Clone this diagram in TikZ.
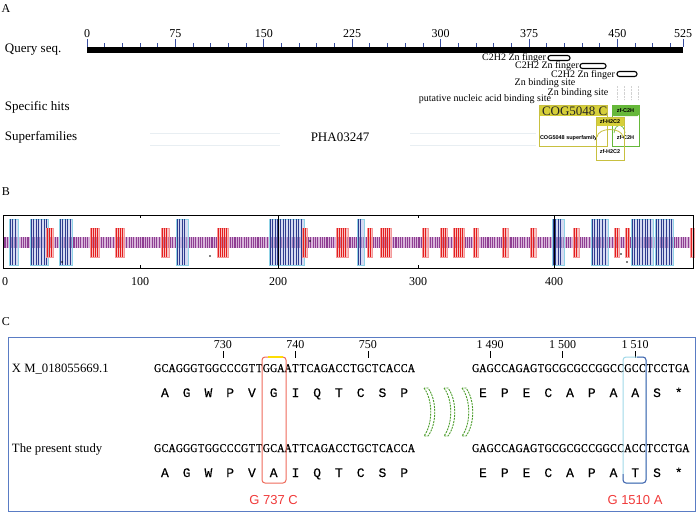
\documentclass[tikz,border=0pt]{standalone}
\usepackage{fontspec}
\setmainfont{Liberation Serif}
\newfontfamily\sansf{Liberation Sans}
\newfontfamily\monof[FakeBold=0.15]{Liberation Mono}
\newfontfamily\seqf[FakeStretch=0.82,FakeBold=0.7]{Liberation Serif}
\definecolor{tickc}{HTML}{3A4FA0}
\definecolor{cogy}{HTML}{D6CF3A}
\definecolor{cogb}{HTML}{C8C040}
\definecolor{zfg}{HTML}{66B83A}
\definecolor{purD}{HTML}{8E3E92}
\definecolor{purL}{HTML}{D8B4DA}
\definecolor{bluD}{HTML}{2E3C8E}
\definecolor{bluM}{HTML}{B4BCE6}
\definecolor{bluL}{HTML}{8FD3E6}
\definecolor{redD}{HTML}{E41E1E}
\definecolor{redL}{HTML}{F49A9A}
\definecolor{boxC}{HTML}{5A7CC4}
\definecolor{redbox}{HTML}{EE6A5A}
\definecolor{mutred}{HTML}{F03A3A}
\definecolor{grnC}{HTML}{4E9E2E}
\definecolor{cyanbox}{HTML}{A0D8E8}
\definecolor{dbluebox}{HTML}{4A66B0}
\definecolor{faint}{HTML}{E8EEF2}
\tikzset{
 lab/.style={font=\fontsize{13}{15}\selectfont, anchor=west},
 rl/.style={font=\fontsize{12}{14}\selectfont},
 smalltxt/.style={font=\fontsize{10}{12}\selectfont},
 tinyb/.style={font=\sansf\bfseries\fontsize{5.5}{6}\selectfont},
 nt/.style={font=\seqf\fontsize{12}{14}\selectfont, anchor=base},
 aa/.style={font=\monof\fontsize{13}{15}\selectfont, anchor=base},
 mut/.style={font=\sansf\fontsize{13}{15}\selectfont, text=mutred},
 hexm/.style={draw=black, line width=1.1, fill=white, rounded corners=2.4pt},
 tk/.style={draw=tickc, line width=0.8},
 crescent/.style={draw=grnC, fill=white, line width=0.9, dash pattern=on 2pt off 1pt},
}
\newcommand\seqrow[4]{\foreach \c [count=\i] in {#4} \node[nt] (#1-\i) at ({#2+7.25*\i},#3) {\c};}
\begin{document}
\begin{tikzpicture}[x=1pt,y=-1pt, every node/.style={inner sep=0pt, outer sep=0pt}]
\useasboundingbox (0,0) rectangle (700,514);
% ---------------- Panel A
\node[rl] (pA) at (6,9) {A};
\fill (87,47) rectangle (683,53);
\foreach \j in {0,...,33}{
  \pgfmathtruncatemacro\m{mod(\j,5)}
  \pgfmathsetmacro\xx{87+\j*17.68}
  \ifnum\m=0 \draw[tk] (\xx,39) -- (\xx,47); \else \draw[tk] (\xx,43) -- (\xx,47); \fi
}
\draw[tk] (683,39) -- (683,47);
\foreach \v [count=\k from 0] in {0,75,150,225,300,375,450}
  \node[rl] (r\k) at ({87+\k*88.4},34) {\v};
\node[rl] (r7) at (683,34) {525};
\node[lab] (qs) at (5,50) {Query seq.};
\node[lab] (sh) at (5,107) {Specific hits};
\node[lab] (sf) at (5,137) {Superfamilies};
% features
\node[smalltxt, anchor=east] (zf1) at (546,58) {C2H2 Zn finger};
\draw[hexm] (548,55.5) rectangle (570,60.5);
\node[smalltxt, anchor=east] (zf2) at (579,66) {C2H2 Zn finger};
\draw[hexm] (580,63.5) rectangle (606,68.5);
\node[smalltxt, anchor=east] (zf3) at (615,75) {C2H2 Zn finger};
\draw[hexm] (617,71.5) rectangle (637,76.5);
\node[smalltxt] (zb1) at (545,83) {Zn binding site};
\node[smalltxt] (zb2) at (578,93) {Zn binding site};
\node[smalltxt] (pn) at (485,99) {putative nucleic acid binding site};
\foreach \x in {617,624,631,638}
  \draw[gray!35, densely dotted] (\x,86) -- (\x,100);
% superfamily faint bands
\draw[faint, line width=0.8] (150,133) -- (280,133) (150,145) -- (280,145);
\draw[faint, line width=0.8] (410,133) -- (536,133) (410,145) -- (536,145);
\node[lab, anchor=center] (pha) at (340,137) {PHA03247};
% COG5048
\begin{scope}
\clip (539,105) rectangle (607,116);
\fill[cogy] (539,105) rectangle (607,116);
\node[anchor=west, font=\fontsize{13}{14}\selectfont, text=black!85] (cog) at (542,110.8) {COG5048 C};
\end{scope}
\draw[cogb, line width=0.9] (539,105) rectangle (607,146);
\begin{scope}
\clip (539,128) rectangle (606,146);
\node[tinyb, anchor=west] (cogs) at (540,138) {COG5048 superfamily};
\end{scope}
% zf-C2H
\fill[zfg, rounded corners=1.5pt] (612,105) rectangle (639,116);
\draw[zfg, line width=0.9] (612,105) rectangle (639,146);
\node[tinyb] (zc1) at (625.5,110.5) {zf-C2H};
\node[tinyb] (zc2) at (625.5,138) {zf-C2H};
\draw[zfg, line width=0.7] (614,133) .. controls (615,123) and (624,123) .. (625,133);
% zf-H2C2
\fill[cogy] (596,117) rectangle (624,126);
\draw[cogb, line width=0.9] (596,117) rectangle (624,160);
\node[tinyb] (zh1) at (610,121.5) {zf-H2C2};
\node[tinyb] (zh2) at (610,152) {zf-H2C2};
\draw[cogb, line width=0.8] (597,137) .. controls (598,127) and (622,127) .. (623,137);
% ---------------- Panel B
\node[rl] (pB) at (6,192) {B};
\fill[purL] (4,237) rectangle (690,248);
\foreach \k in {0,...,297}
  \draw[purD, line width=1.1] ({5+\k*2.3},237) -- ({5+\k*2.3},248);
\foreach \a/\b in {10/17, 31/47, 60/71, 177/187, 270/303, 358/363, 553/563, 592/607, 632/652, 656/672}{
  \fill[bluM, opacity=0.55] (\a-1,219) rectangle (\b+1,265);
  \draw[bluL, line width=0.8] (\a-1,219) rectangle (\b+1,265);
  \pgfmathsetmacro\aa{\a+2.6}
  \foreach \x in {\a,\aa,...,\b} \draw[bluD, line width=1] (\x,219) -- (\x,265);
}
\foreach \a/\b in {47/52, 91/98, 116/123, 162/168, 218/227, 303/306, 337/347, 368/371, 381/390, 423/427, 441/446, 454/463, 474/477, 503/507, 531/535, 574/578, 615/618, 626/628, 691/693}{
  \fill[redL, opacity=0.6] (\a-1,228) rectangle (\b+1,257);
  \draw[redL, line width=0.8] (\a-1,228) rectangle (\b+1,257);
  \pgfmathsetmacro\aa{\a+2.2}
  \foreach \x in {\a,\aa,...,\b} \draw[redD, line width=1] (\x,228) -- (\x,257);
}
\foreach \p in {(62,262),(210,256),(310,241),(621,254),(627,262)} \fill \p circle (0.9);
\draw[line width=0.8] (3,215) rectangle (693,268);
\draw[line width=0.6] (278,215) -- (278,268) (554,215) -- (554,268);
\foreach \x in {140,418} \draw[line width=0.8] (\x,215) -- (\x,218) (\x,268) -- (\x,265);
\node[rl] (b0) at (5,282) {0};
\node[rl] (b1) at (140,282) {100};
\node[rl] (b2) at (278,282) {200};
\node[rl] (b3) at (418,282) {300};
\node[rl] (b4) at (554,282) {400};
% ---------------- Panel C
\node[rl] (pC) at (6,322) {C};
\draw[boxC, line width=1] (8,337) rectangle (695,511);
\node[font=\fontsize{12.7}{15}\selectfont, anchor=base west] (xm) at (12,372) {X M\_018055669.1};
\node[font=\fontsize{12.7}{15}\selectfont, anchor=base west] (ps) at (12,452) {The present study};
% position marks
\foreach \x in {222.9, 295.4, 367.9, 490.1, 562.6, 635.1}{
  \draw[line width=0.8] (\x,351) -- (\x,358);
}
\node[rl] (n730) at (222.9,345) {730};
\node[rl] (n740) at (295.4,345) {740};
\node[rl] (n750) at (367.9,345) {750};
\node[rl] (n1490) at (490.1,345) {1 490};
\node[rl] (n1500) at (562.6,345) {1 500};
\node[rl] (n1510) at (635.1,345) {1 510};
% sequences
\seqrow{sa}{150.375}{372}{G,C,A,G,G,G,T,G,G,C,C,C,G,T,T,G,G,A,A,T,T,C,A,G,A,C,C,T,G,C,T,C,A,C,C,A}
\seqrow{sb}{468.375}{372}{G,A,G,C,C,A,G,A,G,T,G,C,G,C,G,C,C,G,G,C,C,G,C,C,T,C,C,T,G,A}
\seqrow{ta}{150.375}{452}{G,C,A,G,G,G,T,G,G,C,C,C,G,T,T,G,C,A,A,T,T,C,A,G,A,C,C,T,G,C,T,C,A,C,C,A}
\seqrow{tb}{468.375}{452}{G,A,G,C,C,A,G,A,G,T,G,C,G,C,G,C,C,G,G,C,C,A,C,C,T,C,C,T,G,A}
\foreach \c [count=\i from 0] in {A,G,W,P,V,G,I,Q,T,C,S,P} \node[aa] (pa-\i) at ({164.9+21.75*\i},397) {\c};
\foreach \c [count=\i from 0] in {E,P,E,C,A,P,A,A,S,*} \node[aa] (pb-\i) at ({483+21.75*\i},397) {\c};
\foreach \c [count=\i from 0] in {A,G,W,P,V,A,I,Q,T,C,S,P} \node[aa] (qa-\i) at ({164.9+21.75*\i},477) {\c};
\foreach \c [count=\i from 0] in {E,P,E,C,A,P,A,T,S,*} \node[aa] (qb-\i) at ({483+21.75*\i},477) {\c};
% mutation boxes
\draw[redbox, line width=1, rounded corners=3pt] (262,357) rectangle (286,483);
\draw[yellow!80!orange, line width=1.2] (268,357) -- (283,357);
\draw[cyanbox, line width=1, rounded corners=3pt] (623,357) rectangle (646,483);
\draw[dbluebox, line width=1, rounded corners=3pt] (637,357) -- (646,357) -- (646,483) -- (623,483) -- (623,474);
% green crescents
\foreach \x in {424,444,462}{
  \draw[crescent] (\x,388) .. controls (\x+9,400) and (\x+9,424) .. (\x,436) -- (\x+4,436) .. controls (\x+13,424) and (\x+13,400) .. (\x+4,388) -- cycle;
}
\node[mut] (m1) at (273.6,500) {G 737 C};
\node[mut] (m2) at (635,500) {G 1510 A};
\end{tikzpicture}
\end{document}
